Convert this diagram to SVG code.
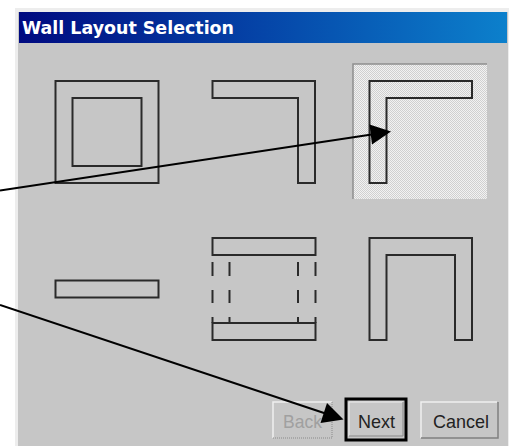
<svg xmlns="http://www.w3.org/2000/svg" width="509" height="446" viewBox="0 0 509 446">
<style>
.w{fill:none;stroke:#2a2a2a;stroke-width:2}
.a{stroke:#000;stroke-width:2;fill:none}
.h{fill:#000;stroke:none}
.b{font:19px "Liberation Sans",Arial,sans-serif;fill:#222}
</style>
<defs>
<linearGradient id="t" x1="0" x2="1" y1="0" y2="0"><stop offset="0" stop-color="#000a80"/><stop offset="0.5" stop-color="#0545a8"/><stop offset="1" stop-color="#0c80cc"/></linearGradient>
<pattern id="d" width="2" height="2" patternUnits="userSpaceOnUse"><rect width="2" height="2" fill="#f2f2f2"/><rect width="1" height="1" fill="#d0d0d0"/><rect x="1" y="1" width="1" height="1" fill="#d0d0d0"/></pattern>
</defs>
<rect width="509" height="446" fill="#fff"/>
<g id="window">
<rect x="15" y="8" width="494" height="438" fill="#ededed"/>
<rect x="18" y="12" width="490" height="434" fill="#c6c6c6"/>
<rect x="19" y="12" width="488" height="31" fill="url(#t)"/>
<text x="22" y="34" font-family="'DejaVu Sans',sans-serif" font-weight="700" font-size="18" fill="#fff" textLength="212" lengthAdjust="spacingAndGlyphs">Wall Layout Selection</text>
</g>
<g id="square"><rect class="w" x="55.500" y="81" width="103" height="102"/><rect class="w" x="72.500" y="98" width="69" height="68"/></g>
<g id="corner-right"><path class="w" d="M212.500 81H315V183H298V98H212.500Z"/></g>
<g id="corner-left">
<rect x="353" y="64" width="134" height="135" fill="url(#d)"/>
<path d="M353 199V64H487" fill="none" stroke="#8e8e8e" stroke-width="1.500"/>
<path class="w" d="M369.500 81H472V98H386.500V183H369.500Z"/></g>
<g id="straight"><rect class="w" x="55.500" y="280.500" width="103" height="17"/></g>
<g id="parallel">
<rect class="w" x="212.500" y="238" width="103" height="17"/>
<rect class="w" x="212.500" y="323" width="103" height="17"/>
<path class="w" d="M212.500 262V276M229.500 262V276M298 262V276M315.500 262V276M212.500 290V303M229.500 290V303M298 290V303M315.500 290V303M212.500 317V323M229.500 317V323M298 317V323M315.500 317V323"/>
</g>
<g id="u-shape"><path class="w" d="M369.500 340V238H472V340H455V255H386.500V340Z"/></g>
<g id="back">
<path d="M273 438V402H332" fill="none" stroke="#f0f0f0" stroke-width="1.500"/>
<path d="M273 438H332V402" fill="none" stroke="#8a8a8a" stroke-dasharray="1 1"/>
<text x="283" y="428" class="b" style="fill:#a0a0a0" textLength="39" lengthAdjust="spacingAndGlyphs">Back</text></g>
<g id="next">
<rect x="346" y="399" width="60" height="41" fill="#c6c6c6" stroke="#000" stroke-width="3"/>
<path d="M349 436V402H403" fill="none" stroke="#eee"/><path d="M349 436H403V402" fill="none" stroke="#888"/>
<text x="358" y="428" class="b" textLength="37" lengthAdjust="spacingAndGlyphs">Next</text></g>
<g id="cancel">
<path d="M421 438V402H497" fill="none" stroke="#f0f0f0" stroke-width="1.500"/>
<path d="M421 438H498V402" fill="none" stroke="#808080" stroke-width="1.500"/>
<text x="433" y="428" class="b" textLength="56" lengthAdjust="spacingAndGlyphs">Cancel</text></g>
<g id="connectors">
<path class="a" d="M0 190.500L375 134"/><path class="h" d="M391 131.500L369.500 124.500L372 144.500Z"/>
<path class="a" d="M0 305L330 415"/><path class="h" d="M343.500 419.500L327 403L320.500 423Z"/>
</g>
</svg>
